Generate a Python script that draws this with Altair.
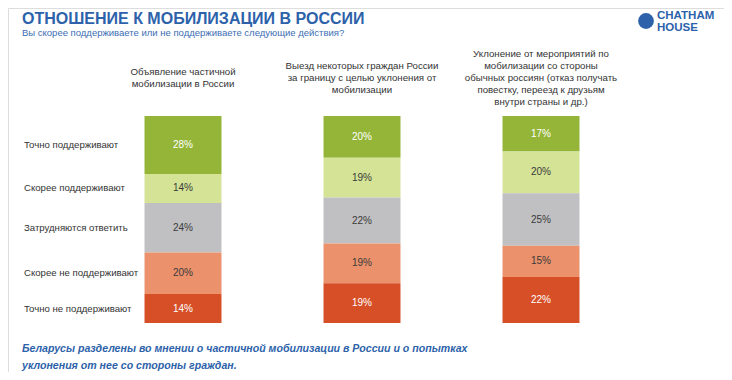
import altair as alt
import pandas as pd

# ---- data ----
question_keys = ["q1", "q2", "q3"]
question_texts = [
    "Объявление частичной\nмобилизации в России",
    "Выезд некоторых граждан России\nза границу с целью уклонения от\nмобилизации",
    "Уклонение от мероприятий по\nмобилизации со стороны\nобычных россиян (отказ получать\nповестку, переезд к друзьям\nвнутри страны и др.)",
]
categories = [
    "Точно поддерживают",
    "Скорее поддерживают",
    "Затрудняются ответить",
    "Скорее не поддерживают",
    "Точно не поддерживают",
]
values_q1 = [28, 14, 24, 20, 14]
values_q2 = [20, 19, 22, 19, 19]
values_q3 = [17, 20, 25, 15, 22]
colors = ["#94b537", "#d4e396", "#c0c0c2", "#eb916c", "#d64f27"]
label_colors = ["#ffffff", "#3a3a3a", "#3a3a3a", "#3a3a3a", "#ffffff"]

title_text = "ОТНОШЕНИЕ К МОБИЛИЗАЦИИ В РОССИИ"
subtitle_text = "Вы скорее поддерживаете или не поддерживаете следующие действия?"
footer_text = ("Беларусы разделены во мнении о частичной мобилизации в России и о попытках\n"
               "уклонения от нее со стороны граждан.")

rows = []
for qk, vals in zip(question_keys, [values_q1, values_q2, values_q3]):
    for i, (c, v) in enumerate(zip(categories, vals)):
        rows.append({"q": qk, "cat": c, "v": v, "ord": 4 - i,
                     "lbl": f"{v}%", "tc": label_colors[i]})
df = pd.DataFrame(rows)
one = pd.DataFrame({"a": [0]})

BLUE = "#2d62aa"
FONT = "Liberation Sans"

xscale = alt.Scale(domain=question_keys, range=[85.5, 622.5],
                   paddingInner=0.57, paddingOuter=0.285)
yscale = alt.Scale(domain=[0, 1], range=[315, 108])

base = alt.Chart(df).transform_stack(
    stack="v", groupby=["q"], as_=["y0", "y1"], offset="normalize",
    sort=[alt.SortField("ord", order="ascending")]
).transform_calculate(mid="(datum.y0 + datum.y1) / 2")

bars = base.mark_bar().encode(
    x=alt.X("q:N", scale=xscale, axis=None),
    y=alt.Y("y0:Q", scale=yscale, axis=None),
    y2="y1:Q",
    color=alt.Color("cat:N", scale=alt.Scale(domain=categories, range=colors), legend=None),
)

vlabels = base.mark_text(font=FONT, fontSize=10, baseline="middle").encode(
    x=alt.X("q:N", scale=xscale, axis=None),
    y=alt.Y("mid:Q", scale=yscale, axis=None),
    text="lbl:N",
    color=alt.Color("tc:N", scale=None),
)

catlabels = base.transform_filter("datum.q == 'q1'").mark_text(
    font=FONT, fontSize=9.6, align="left", baseline="middle", color="#333333"
).encode(
    x=alt.value(16),
    y=alt.Y("mid:Q", scale=yscale, axis=None),
    text="cat:N",
)

# column headers, vertically centred on a common line
header_layers = []
LH = 12
for qk, txt in zip(question_keys, question_texts):
    n = txt.count("\n") + 1
    header_layers.append(
        alt.Chart(pd.DataFrame({"q": [qk], "h": [txt]})).mark_text(
            font=FONT, fontSize=9.7, lineBreak="\n", lineHeight=LH,
            baseline="middle", align="center", color="#333333"
        ).encode(
            x=alt.X("q:N", scale=xscale, axis=None),
            y=alt.value(70 - (n - 1) * LH / 2),
            text="h:N",
        )
    )

title = alt.Chart(one).mark_text(
    font=FONT, fontSize=16, fontWeight="bold", align="left", baseline="middle", color=BLUE
).encode(x=alt.value(14), y=alt.value(11), text=alt.value(title_text))

subtitle = alt.Chart(one).mark_text(
    font=FONT, fontSize=9.5, align="left", baseline="middle", color="#3a6db4"
).encode(x=alt.value(14), y=alt.value(25), text=alt.value(subtitle_text))

footer = alt.Chart(one).mark_text(
    font=FONT, fontSize=10.6, fontWeight="bold", fontStyle="italic", align="left",
    baseline="middle", color=BLUE, lineBreak="\n", lineHeight=17
).encode(x=alt.value(14), y=alt.value(341), text=alt.value(footer_text))

globe = alt.Chart(one).mark_point(
    filled=True, shape="circle", size=250, color=BLUE, opacity=1
).encode(x=alt.value(638), y=alt.value(13))

logo = alt.Chart(one).mark_text(
    font=FONT, fontSize=11.5, fontWeight="bold", align="left", baseline="middle",
    color=BLUE, lineBreak="\n", lineHeight=12
).encode(x=alt.value(649), y=alt.value(8), text=alt.value("CHATHAM\nHOUSE"))

chart = alt.layer(bars, vlabels, catlabels, *header_layers, title, subtitle, footer, globe, logo).properties(
    width=716, height=364, autosize=alt.AutoSizeParams(type="none"), padding=0
).configure_view(stroke=None).configure(background="#ffffff")

chart.save("out.html", embed_options={"renderer": "svg", "actions": False})
